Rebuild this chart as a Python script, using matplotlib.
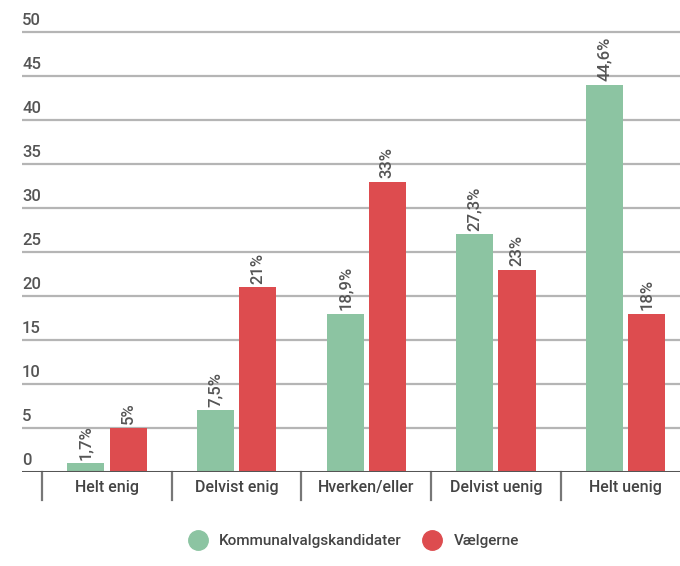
import numpy as np
import matplotlib.pyplot as plt
from matplotlib.lines import Line2D

plt.rcParams['font.family'] = ['Roboto', 'DejaVu Sans']
plt.rcParams['font.weight'] = 'medium'

categories = ["Helt enig", "Delvist enig", "Hverken/eller", "Delvist uenig", "Helt uenig"]
# bar heights as drawn in the picture, labels as printed
kandidater = [1, 7, 18, 27, 44]
kandidater_labels = ["1,7%", "7,5%", "18,9%", "27,3%", "44,6%"]
vaelgere = [5, 21, 33, 23, 18]
vaelgere_labels = ["5%", "21%", "33%", "23%", "18%"]
yticks = [0, 5, 10, 15, 20, 25, 30, 35, 40, 45, 50]

green = "#8cc4a2"
red = "#dd4c4f"
txt = "#555555"

fig = plt.figure(figsize=(6.8, 5.66), dpi=100)
ax = fig.add_axes([22/680, (566-472)/566, 1 - 22/680, 462/566])

x = np.arange(len(categories))
w = 0.286
off = 0.163

for v in yticks[1:]:
    ax.axhline(v, color="#b5b5b5", lw=1.6, zorder=0)
for v in yticks:
    ax.text(0, v + 0.45, str(v), transform=ax.get_yaxis_transform(),
            ha="left", va="bottom", fontsize=12, color=txt, fontweight="medium")

b1 = ax.bar(x - off, kandidater, w, color=green, zorder=2)
b2 = ax.bar(x + off, vaelgere, w, color=red, zorder=2)

for xi, h, lab in zip(x - off, kandidater, kandidater_labels):
    ax.text(xi, h + 0.4, lab, rotation=90, ha="center", va="bottom", fontsize=12, color=txt)
for xi, h, lab in zip(x + off, vaelgere, vaelgere_labels):
    ax.text(xi, h + 0.4, lab, rotation=90, ha="center", va="bottom", fontsize=12, color=txt)

ax.axhline(0, color="#555555", lw=2.2, zorder=3)

ax.set_xlim(-0.655, 4.42)
ax.set_ylim(0, 52.5)
ax.set_xticks([])
ax.set_yticks([])
for s in ax.spines.values():
    s.set_visible(False)

# separators and category labels below the axis
for xs in np.arange(len(categories) + 1) - 0.5:
    ax.plot([xs, xs], [0, -3.2], color="#777777", lw=1.6, clip_on=False)
for xi, c in zip(x, categories):
    ax.text(xi, -1.8, c, ha="center", va="center", fontsize=11.5, color="#444444")

handles = [Line2D([], [], marker="o", ls="none", markersize=14, color=green),
           Line2D([], [], marker="o", ls="none", markersize=14, color=red)]
fig.legend(handles, ["Kommunalvalgskandidater", "Vælgerne"], loc="center",
           bbox_to_anchor=(0.516, 0.044), ncol=2, frameon=False, fontsize=11,
           handletextpad=0.4, columnspacing=1.0, labelcolor="#444444")

plt.savefig("out.png", dpi=100)
